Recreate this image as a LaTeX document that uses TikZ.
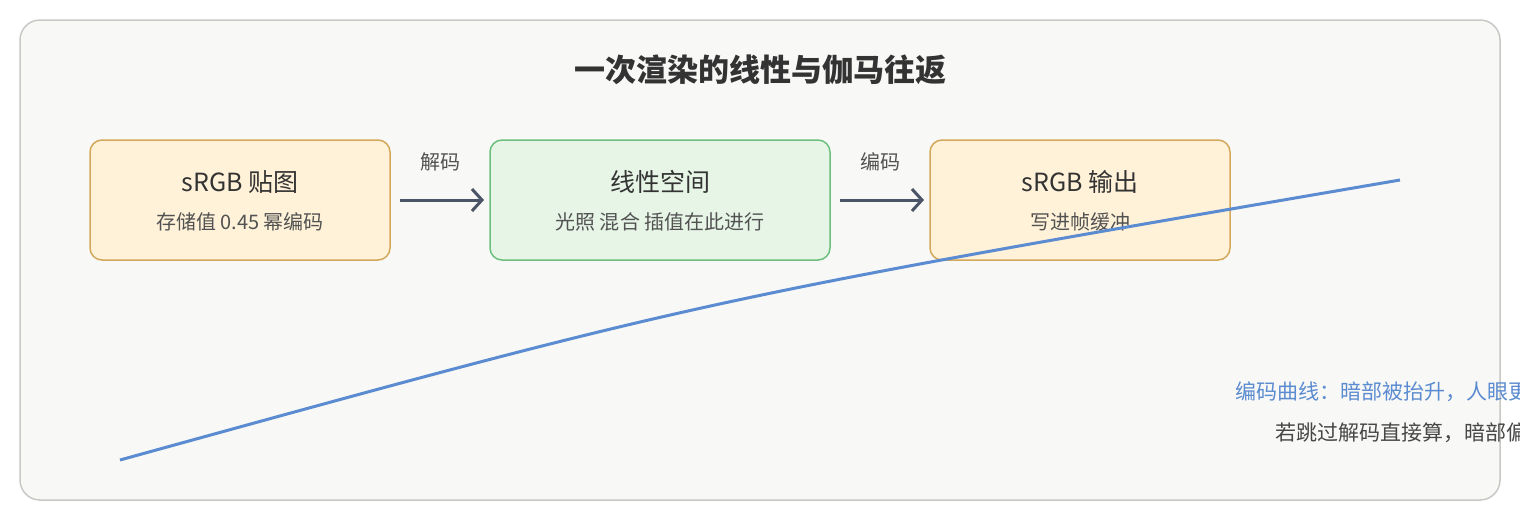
\documentclass[tikz,border=0pt]{standalone}
\usepackage{fontspec}
\setmainfont{Noto Sans CJK SC}
\usetikzlibrary{arrows.meta}
\definecolor{panelbg}{HTML}{F8F8F6}
\definecolor{panelline}{HTML}{C8C8C4}
\definecolor{warmbg}{HTML}{FFF2D9}
\definecolor{warmline}{HTML}{D4A85A}
\definecolor{coolbg}{HTML}{E6F5E6}
\definecolor{coolline}{HTML}{6DBF7E}
\definecolor{flowgray}{HTML}{4A5568}
\definecolor{curveblue}{HTML}{5B8BD0}
\definecolor{textdark}{HTML}{333333}
\tikzset{
  stage/.style={draw, line width=1.5pt, rounded corners=12pt},
  head/.style={font=\fontsize{25}{28}\selectfont, text=textdark},
  note/.style={font=\fontsize{20}{24}\selectfont, text=textdark!85},
  flow/.style={draw=flowgray, line width=3pt, -{Straight Barb[length=10pt,width=22pt]}},
}
\begin{document}
\begin{tikzpicture}[x=1pt, y=-1pt]
  \useasboundingbox (0,0) rectangle (1520,520);
  \draw [fill=panelbg, draw=panelline, line width=1.5pt, rounded corners=20pt] (20,20) rectangle (1500,500);
  \node (title) [font=\bfseries\fontsize{31}{34}\selectfont, text=textdark] at (760,70) {一次渲染的线性与伽马往返};
  % three stages
  \draw [stage, fill=warmbg, draw=warmline] (90,140) rectangle (390,260);
  \draw [stage, fill=coolbg, draw=coolline] (490,140) rectangle (830,260);
  \draw [stage, fill=warmbg, draw=warmline] (930,140) rectangle (1230,260);
  \node (texin) [head] at (240,182) {sRGB 贴图};
  \node (texinsub) [note] at (240,222) {存储值 0.45 幂编码};
  \node (lin) [head] at (660,182) {线性空间};
  \node (linsub) [note] at (660,222) {光照 混合 插值在此进行};
  \node (out) [head] at (1080,182) {sRGB 输出};
  \node (outsub) [note] at (1080,222) {写进帧缓冲};
  % arrows
  \coordinate (a1) at (400,200); \coordinate (b1) at (484,200);
  \coordinate (a2) at (840,200); \coordinate (b2) at (924,200);
  \draw [flow] (a1) -- (b1);
  \draw [flow] (a2) -- (b2);
  \node (dec) [note] at (440,162) {解码};
  \node (enc) [note] at (880,162) {编码};
  % curve
  \coordinate (c0) at (120,460); \coordinate (c1) at (1400,180);
  \draw [curveblue, line width=3pt] (c0) .. controls (700,300) .. (c1);
  \node (curvenote) [anchor=west, font=\fontsize{21}{25}\selectfont, text=curveblue] at (1232,392) {编码曲线：暗部被抬升，人眼更敏感};
  \node (warnnote) [anchor=west, font=\fontsize{21}{25}\selectfont, text=textdark!90] at (1272,433) {若跳过解码直接算，暗部偏亮};
\end{tikzpicture}
\end{document}
